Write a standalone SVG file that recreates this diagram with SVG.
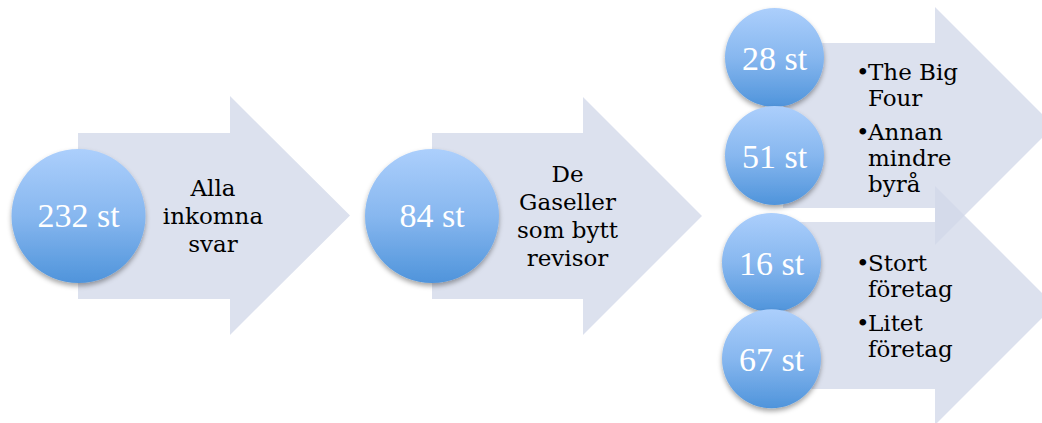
<svg xmlns="http://www.w3.org/2000/svg" width="1042" height="423" viewBox="0 0 1042 423">
  <defs>
    <linearGradient id="ballGrad" x1="0" y1="0" x2="0" y2="1">
      <stop offset="0" stop-color="#accffc"/>
      <stop offset="0.5" stop-color="#87b7ef"/>
      <stop offset="1" stop-color="#4f94db"/>
    </linearGradient>
    <filter id="shadow" x="-20%" y="-20%" width="140%" height="150%">
      <feDropShadow dx="0" dy="3" stdDeviation="2.5" flood-color="#000" flood-opacity="0.35"/>
    </filter>
  </defs>
  <style>
    .arrow { fill: #d2d8e9; fill-opacity: 0.77; }
    .ball { fill: url(#ballGrad); filter: url(#shadow); }
    .num { font-family: "Liberation Serif", "DejaVu Serif", serif; font-size: 34px; fill: #ffffff; text-anchor: middle; }
    .lbl { font-family: "DejaVu Serif", "Liberation Serif", serif; font-size: 23px; fill: #000000; }
    .mid { text-anchor: middle; }
  </style>
  <rect width="1042" height="423" fill="#ffffff"/>

  <g id="stage1">
    <polygon class="arrow" points="78,133 230,133 230,96 350,215.5 230,335 230,299 78,299"/>
    <circle class="ball" cx="78.5" cy="216" r="67"/>
    <text class="num" x="78.5" y="227">232 st</text>
    <text class="lbl mid" x="213" y="196">Alla</text>
    <text class="lbl mid" x="213" y="224">inkomna</text>
    <text class="lbl mid" x="213" y="252">svar</text>
  </g>

  <g id="stage2">
    <polygon class="arrow" points="432,133 583,133 583,97 702,216 583,335 583,299 432,299"/>
    <circle class="ball" cx="432" cy="216" r="67"/>
    <text class="num" x="432" y="227">84 st</text>
    <text class="lbl mid" x="567.5" y="182">De</text>
    <text class="lbl mid" x="567.5" y="210">Gaseller</text>
    <text class="lbl mid" x="567.5" y="238">som bytt</text>
    <text class="lbl mid" x="567.5" y="266">revisor</text>
  </g>

  <g id="stage3-arrows">
    <polygon id="arrow-top" class="arrow" points="783,43 935,43 935,7 1054,126 935,245 935,208 783,208"/>
    <polygon id="arrow-bottom" class="arrow" points="783,222 935,222 935,186 1054.5,305.5 935,425 935,389 783,389"/>
  </g>

  <g id="byra">
    <circle class="ball" cx="774.5" cy="57.5" r="49.5"/>
    <text class="num" x="774.5" y="69.5">28 st</text>
    <circle class="ball" cx="774.5" cy="155.5" r="49.5"/>
    <text class="num" x="774.5" y="167.5">51 st</text>
    <text class="lbl" y="80"><tspan x="856">•</tspan><tspan x="868">The Big</tspan></text>
    <text class="lbl" x="868" y="106">Four</text>
    <text class="lbl" y="140"><tspan x="856">•</tspan><tspan x="868">Annan</tspan></text>
    <text class="lbl" x="868" y="166">mindre</text>
    <text class="lbl" x="868" y="192">byrå</text>
  </g>

  <g id="foretag">
    <circle class="ball" cx="771.5" cy="262.5" r="49.5"/>
    <text class="num" x="771.5" y="274.5">16 st</text>
    <circle class="ball" cx="771.5" cy="358.8" r="49.5"/>
    <text class="num" x="771.5" y="370.8">67 st</text>
    <text class="lbl" y="271"><tspan x="856">•</tspan><tspan x="868">Stort</tspan></text>
    <text class="lbl" x="868" y="297">företag</text>
    <text class="lbl" y="331"><tspan x="856">•</tspan><tspan x="868">Litet</tspan></text>
    <text class="lbl" x="868" y="357">företag</text>
  </g>
</svg>
